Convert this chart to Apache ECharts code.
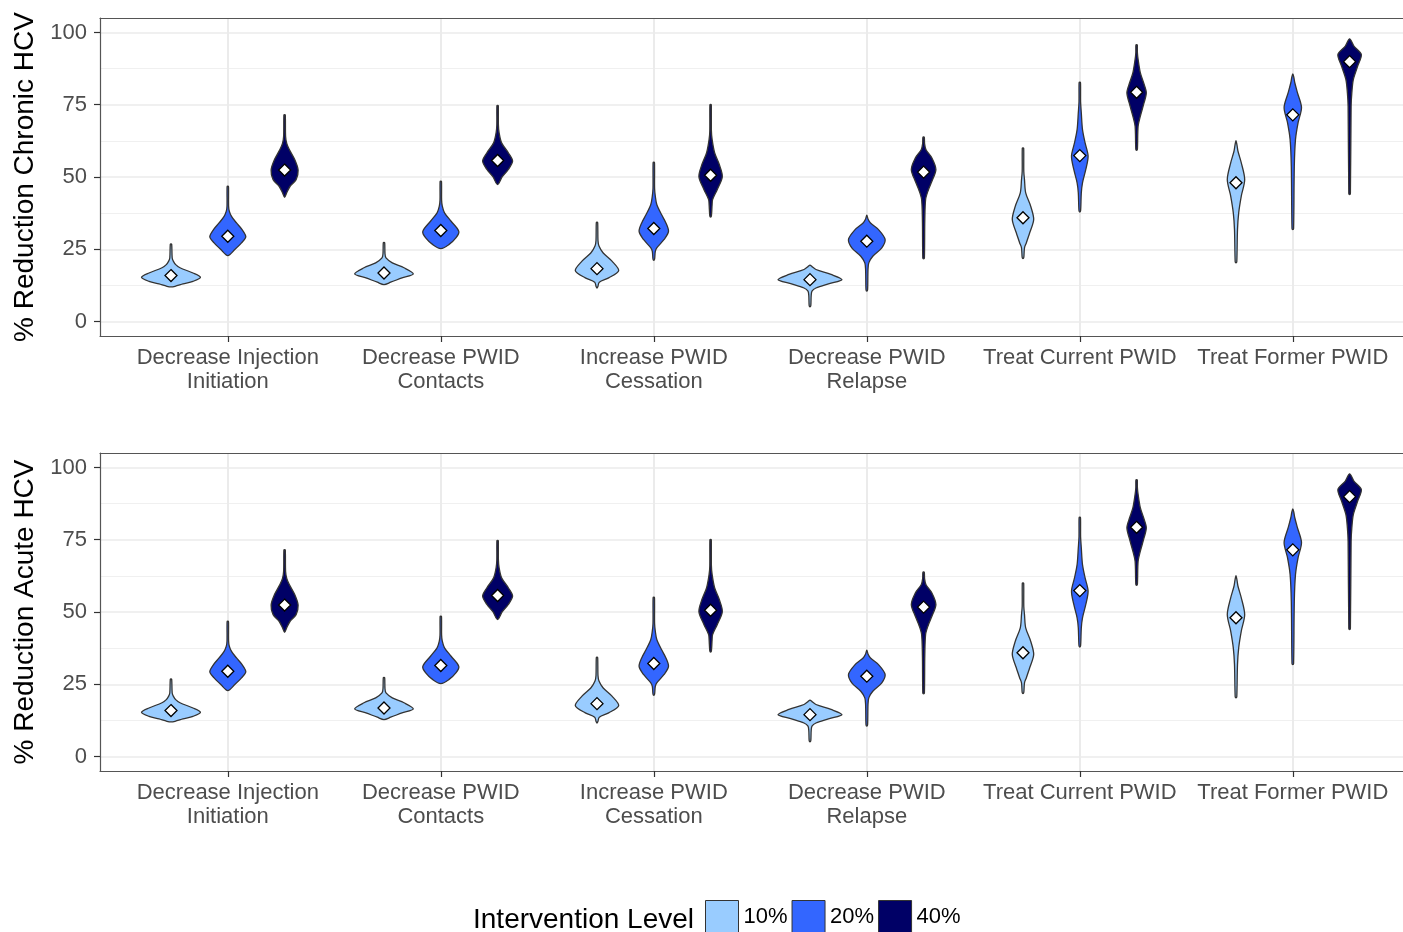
<!DOCTYPE html>
<html>
<head>
<meta charset="utf-8">
<style>
  html, body { margin: 0; padding: 0; background: #fff; }
  #chart { width: 1403px; height: 932px; }
</style>
<script src="https://cdn.jsdelivr.net/npm/echarts@6/dist/echarts.min.js"></script>
</head>
<body>
<div id="chart"></div>
<script>
const categories = ['Decrease Injection\nInitiation', 'Decrease PWID\nContacts', 'Increase PWID\nCessation',
  'Decrease PWID\nRelapse', 'Treat Current PWID', 'Treat Former PWID'];
const levels = ['10%', '20%', '40%'];
const levelColors = ['#99ccff', '#3366ff', '#000066'];
const panelTitles = ['% Reduction Chronic HCV', '% Reduction Acute HCV'];
const yTicks = [0, 25, 50, 75, 100];
const yMinorTicks = [12.5, 37.5, 62.5, 87.5];
const xTicks = [1, 2, 3, 4, 5, 6];

// medians (white diamonds)
const median10 = [15.9, 16.8, 18.3, 14.5, 35.9, 48.0];
const median20 = [29.5, 31.5, 32.2, 27.8, 57.4, 71.5];
const median40 = [52.4, 55.7, 50.6, 51.7, 79.3, 89.9];

// violin outlines, bottom to top: [value, half width]
const violin10 = [
  [[12.0,0],[12.2,4],[13.0,12],[13.9,22],[15.3,29.5],[16.8,22],[18.6,9],[19.7,4.7],[20.9,2.3],[22,1.2],[26.7,0.7],[26.9,0]],
  [[12.8,0],[13.6,6.7],[15.1,18],[16.5,29.3],[18.6,20],[20.3,8.3],[22,2],[23.5,1],[27.2,0.7],[27.4,0]],
  [[11.6,0],[12,0.8],[13.6,2.3],[15.1,11.7],[17.6,21.7],[20.9,15],[23.8,6],[26.1,2],[28,1],[34.2,0.7],[34.4,0]],
  [[5.1,0],[5.5,0.8],[9,1.2],[10.5,2],[11.6,6],[13.1,19.3],[14.5,32],[16.3,21],[18,6],[19,2],[19.5,0]],
  [[21.8,0],[22.2,0.8],[25.5,1.5],[27.2,3.3],[30.7,6.7],[35.3,10.7],[39.9,7.7],[44.5,2.7],[49.1,1.5],[52,0.8],[59.9,0.7],[60.1,0]],
  [[20.3,0],[20.7,0.8],[31.8,1.5],[37.6,2.7],[43.4,5.3],[49.1,8.7],[54.9,5.3],[58.9,2],[61,1],[62.6,0]]
];
const violin20 = [
  [[22.8,0],[24.9,7],[27.2,13.7],[29.3,18],[31.8,14.3],[34.1,8.7],[36.4,3.7],[38.2,1.5],[40,0.8],[46.6,0.7],[46.8,0]],
  [[25.2,0],[26.6,8],[29.0,15.3],[31.2,18],[34.7,10.3],[37.6,3.7],[39.9,1.5],[42,0.8],[48.4,0.7],[48.6,0]],
  [[21.2,0],[21.6,0.8],[24.3,1.5],[25.5,3],[28.4,10.3],[31.2,14.7],[34.2,12],[37.0,7.7],[40.5,3],[43.4,1.5],[46,0.8],[54.9,0.7],[55.1,0]],
  [[10.5,0],[11,0.8],[18,1.2],[20.3,2],[22.6,6],[25.5,15],[28.4,18.3],[31.8,11.7],[34.1,3.7],[35.5,1.2],[36.8,0]],
  [[37.9,0],[38.3,0.8],[44.5,1.5],[48.0,2.7],[52.6,6],[57.2,8.3],[61.8,5.3],[66.4,2.7],[72.2,1.5],[76,0.8],[82.6,0.7],[82.8,0]],
  [[31.8,0],[32.2,0.8],[53.7,1.5],[63.0,2.7],[68.8,5.3],[74.0,8.7],[79.1,4.7],[82.6,2],[84.5,1],[85.7,0]]
];
const violin40 = [
  [[43.0,0],[44.5,2],[46.8,5.5],[49.1,11.5],[52.4,13.5],[56.1,10],[59.5,4.7],[61.5,2.2],[64,1],[71.4,0.7],[71.6,0]],
  [[47.4,0],[50.1,4.7],[52.6,10.7],[55.5,15],[58.4,10.7],[61.8,4],[65.3,1.5],[68,0.8],[74.6,0.7],[74.8,0]],
  [[36.1,0],[36.5,0.8],[40.5,1.5],[42.2,2],[45.7,6.7],[50.1,11.7],[54.3,8.7],[58.4,4],[63,1.5],[66,0.8],[74.9,0.7],[75.1,0]],
  [[21.7,0],[22,0.8],[35,1.2],[42.2,2],[45.1,4.3],[48.5,8.3],[52.6,12.3],[56.6,8.3],[59.5,2.3],[61.5,1],[63.7,0.7],[63.9,0]],
  [[59.2,0],[59.6,0.8],[67.6,1.5],[71.0,3.7],[75.1,7],[79.1,9.7],[82.6,7],[86.1,3.7],[90.7,1.5],[93,0.8],[95.6,0.7],[95.8,0]],
  [[43.9,0],[44.3,0.8],[74.5,1.5],[79,2.2],[83.7,3.7],[88.3,8],[92.4,11.7],[95.3,4.3],[97.8,0]]
];

const medians = [median10, median20, median40];
const violins = [violin10, violin20, violin40];
const dodge = [-0.2667, 0, 0.2667];
const WIDTH_SCALE = 1 / 213; // half widths were read at 213px per category

const chart = echarts.init(document.getElementById('chart'));
const FONT = 'Liberation Sans, Arial, sans-serif';
const panelTops = [18, 453];
const panelHeight = 318;

function renderViolin(level) {
  return function (params, api) {
    const i = params.dataIndex;
    const x = api.value(0) + dodge[level];
    const k = api.size([1, 0])[0] * WIDTH_SCALE;
    const prof = violins[level][i];
    const right = [], left = [];
    prof.forEach(function (p) {
      const c = api.coord([x, p[0]]);
      right.push([c[0] + p[1] * k, c[1]]);
      left.unshift([c[0] - p[1] * k, c[1]]);
    });
    const pts = right.concat(left.slice(1, -1));
    const m = api.coord([x, api.value(1)]);
    const d = 6;
    return {
      type: 'group',
      children: [
        {
          type: 'polygon',
          shape: { points: pts, smooth: 0.3 },
          style: { fill: levelColors[level], stroke: '#333', lineWidth: 1.3 }
        },
        {
          type: 'polygon',
          shape: { points: [[m[0], m[1] - d], [m[0] + d, m[1]], [m[0], m[1] + d], [m[0] - d, m[1]]] },
          style: { fill: '#fff', stroke: '#000', lineWidth: 1.3 }
        }
      ]
    };
  };
}

const grids = [], xAxes = [], yAxes = [], series = [];
panelTops.forEach(function (top, g) {
  grids.push({ left: 100, right: 0, top: top, height: panelHeight });
  // bottom x axis with categories
  xAxes.push({
    type: 'value', gridIndex: g, min: 0.4, max: 0.4 + 1303 / 213,
    axisLine: { show: true, onZero: false, lineStyle: { color: '#555', width: 1.2 } },
    axisTick: { show: true, length: 6, customValues: xTicks, lineStyle: { color: '#333', width: 1.2 } },
    axisLabel: {
      customValues: xTicks, margin: 10, color: '#4d4d4d', fontSize: 22, lineHeight: 24, fontFamily: FONT,
      formatter: function (v) { return categories[Math.round(v) - 1]; }
    },
    splitLine: { show: true, lineStyle: { color: '#ebebeb', width: 2 } }
  });
  // top border
  xAxes.push({
    type: 'value', gridIndex: g, position: 'top', min: 0.4, max: 0.4 + 1303 / 213,
    axisLine: { show: true, onZero: false, lineStyle: { color: '#555', width: 1.2 } },
    axisTick: { show: false }, axisLabel: { show: false }, splitLine: { show: false }
  });
  yAxes.push({
    type: 'value', gridIndex: g, min: -5, max: 105,
    name: panelTitles[g], nameLocation: 'middle', nameGap: 61,
    nameTextStyle: { fontSize: 28, color: '#000', fontFamily: FONT },
    axisLine: { show: true, onZero: false, lineStyle: { color: '#555', width: 1.2 } },
    axisTick: { show: true, length: 6, customValues: yTicks, lineStyle: { color: '#333', width: 1.2 } },
    axisLabel: { customValues: yTicks, margin: 13, color: '#4d4d4d', fontSize: 22, fontFamily: FONT },
    splitLine: { show: true, lineStyle: { color: '#ebebeb', width: 1.6 } }
  });
  // minor grid lines
  yAxes.push({
    type: 'value', gridIndex: g, position: 'left', min: -5, max: 105,
    axisLine: { show: false },
    axisTick: { show: false, customValues: yMinorTicks },
    axisLabel: { show: false },
    splitLine: { show: true, lineStyle: { color: '#f0f0f0', width: 1.2 } }
  });
  levels.forEach(function (name, l) {
    series.push({
      type: 'custom', name: name,
      xAxisIndex: g * 2, yAxisIndex: g * 2,
      itemStyle: { color: levelColors[l], borderColor: '#333', borderWidth: 1 },
      renderItem: renderViolin(l),
      data: medians[l].map(function (v, i) { return [i + 1, v]; }),
      z: 3
    });
  });
});

chart.setOption({
  animation: false,
  backgroundColor: '#fff',
  textStyle: { fontFamily: FONT },
  grid: grids,
  xAxis: xAxes,
  yAxis: yAxes,
  legend: {
    data: levels, left: 705, top: 900, orient: 'horizontal', padding: 0,
    icon: 'rect', itemWidth: 33, itemHeight: 33, itemGap: 4,
    itemStyle: { borderColor: '#333', borderWidth: 1 },
    textStyle: { fontSize: 22, color: '#000', fontFamily: FONT },
    selectedMode: false
  },
  graphic: [{
    type: 'text', left: 473, top: 906,
    style: { text: 'Intervention Level', fontSize: 28, fill: '#000', fontFamily: FONT }
  }],
  series: series
});
</script>
</body>
</html>
